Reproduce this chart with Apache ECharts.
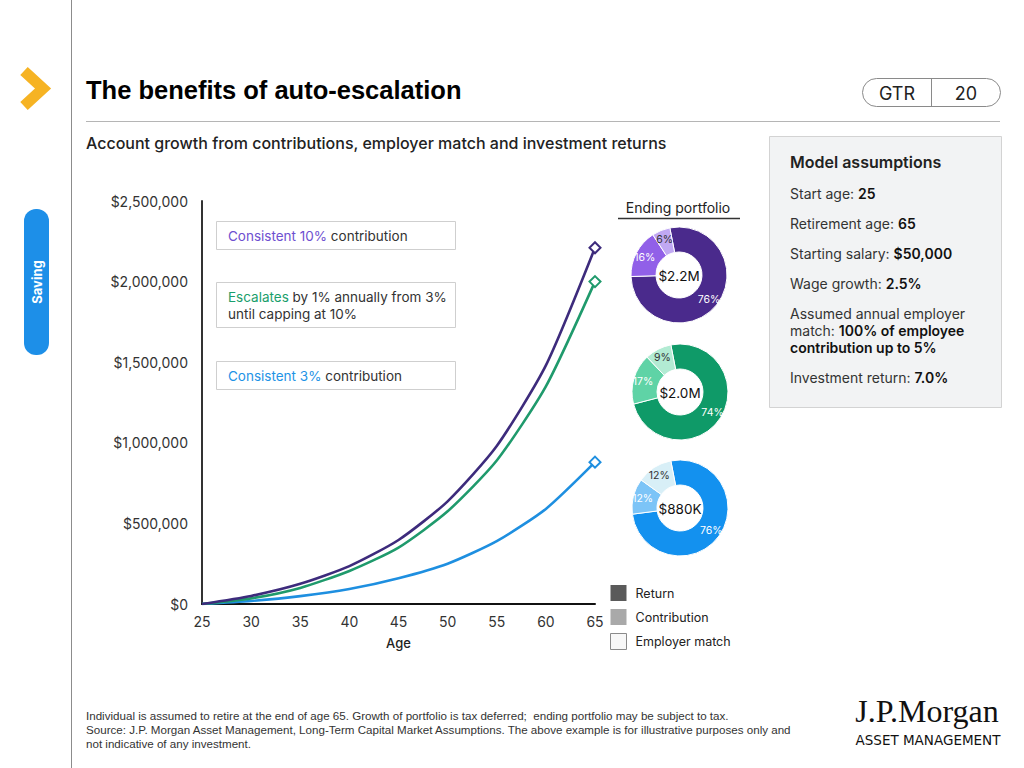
<!DOCTYPE html>
<html><head><meta charset="utf-8">
<script src="https://cdn.jsdelivr.net/npm/echarts@6/dist/echarts.min.js"></script>
<style>html,body{margin:0;padding:0;background:#fff}#c{width:1024px;height:768px}</style>
</head><body><div id="c"></div>
<script>
// ---- data ----
const ages = [25, 30, 35, 40, 45, 50, 55, 60, 65];
const consistent10 = [0, 50000, 125000, 235000, 397000, 637000, 980000, 1480000, 2210000];
const escalating = [0, 35000, 100000, 205000, 350000, 575000, 890000, 1350000, 2000000];
const consistent3 = [0, 19000, 49000, 93000, 160000, 250000, 390000, 590000, 880000];
const yTicks = [0, 500000, 1000000, 1500000, 2000000, 2500000];
const portfolioNames = ['Return', 'Contribution', 'Employer match'];
const returnPct = [76, 74, 76];
const contributionPct = [16, 17, 12];
const matchPct = [6, 9, 12];
const endingLabels = ['$2.2M', '$2.0M', '$880K'];

// ---- styles ----
const F = 'Inter, "Noto Sans", sans-serif';
const lineColors = ['#3d2b7c', '#1f9a6c', '#1e8fe0'];
const donutColors = [
  ['#4a2a8c', '#9160e8', '#c0a8f3'],
  ['#0f9a68', '#5fd3a6', '#b2ebd3'],
  ['#1391ef', '#7cc4f7', '#d8eff7']
];
const donutCenters = [[679, 275], [680, 392], [680, 508]];

const chart = echarts.init(document.getElementById('c'), null, {renderer: 'svg', width: 1024, height: 768});

const lineSeries = [consistent10, escalating, consistent3].map((vals, s) => ({
  type: 'line',
  name: ['Consistent 10% contribution', 'Escalates by 1% annually from 3% until capping at 10%', 'Consistent 3% contribution'][s],
  data: ages.map((a, i) => [a, vals[i]]),
  smooth: 0.22,
  symbol: 'emptyDiamond',
  showSymbol: true,
  symbolSize: (v, p) => p.dataIndex === ages.length - 1 ? 11 : 0,
  lineStyle: {color: lineColors[s], width: 2.6},
  itemStyle: {color: lineColors[s], borderColor: lineColors[s], borderWidth: 2.2},
  z: 3 - s,
  silent: true
}));

const pieSeries = [0, 1, 2].map(k => ({
  type: 'pie',
  center: donutCenters[k],
  radius: [23, 48],
  startAngle: 101,
  clockwise: true,
  avoidLabelOverlap: false,
  silent: true,
  itemStyle: {borderColor: '#fff', borderWidth: 1},
  label: {show: true, position: 'inside', fontSize: 10.5, fontFamily: F, formatter: '{c}%'},
  labelLine: {show: false},
  data: [
    {name: portfolioNames[0], value: returnPct[k], itemStyle: {color: donutColors[k][0]}, label: {color: '#fff'}},
    {name: portfolioNames[1], value: contributionPct[k], itemStyle: {color: donutColors[k][1]}, label: {color: '#fff'}},
    {name: portfolioNames[2], value: matchPct[k], itemStyle: {color: donutColors[k][2]}, label: {color: '#333'}}
  ]
}));

const g = [];
// page decorations
g.push({type: 'line', shape: {x1: 71.5, y1: 0, x2: 71.5, y2: 768}, style: {stroke: '#8c8c8c', lineWidth: 1}});
g.push({type: 'polyline', shape: {points: [[24, 71], [43, 88.5], [24, 106]]}, style: {stroke: '#f6b323', lineWidth: 11, fill: null, lineJoin: 'miter', lineCap: 'butt'}});
g.push({type: 'rect', shape: {x: 24, y: 209, width: 25, height: 146, r: 12}, style: {fill: '#1d8fe8'}});
g.push({type: 'text', x: 37, y: 282, rotation: Math.PI / 2, style: {text: 'Saving', fill: '#fff', font: 'bold 13px ' + F, align: 'center', verticalAlign: 'middle'}});
g.push({type: 'text', x: 86, y: 90, style: {text: 'The benefits of auto-escalation', fill: '#000', font: 'bold 25.5px "Liberation Sans", Arial, sans-serif', verticalAlign: 'middle'}});
g.push({type: 'line', shape: {x1: 86, y1: 121.5, x2: 1000, y2: 121.5}, style: {stroke: '#b5b5b5', lineWidth: 1.2}});
g.push({type: 'rect', shape: {x: 862.5, y: 78.5, width: 138, height: 28, r: 14}, style: {fill: null, stroke: '#8a8a8a', lineWidth: 1}});
g.push({type: 'line', shape: {x1: 931.5, y1: 78.5, x2: 931.5, y2: 106.5}, style: {stroke: '#8a8a8a', lineWidth: 1}});
g.push({type: 'text', x: 897, y: 93, style: {text: 'GTR', fill: '#222', font: '18px ' + F, align: 'center', verticalAlign: 'middle'}});
g.push({type: 'text', x: 966, y: 93, style: {text: '20', fill: '#222', font: '18px ' + F, align: 'center', verticalAlign: 'middle'}});
g.push({type: 'text', x: 86, y: 143, style: {text: 'Account growth from contributions, employer match and investment returns', fill: '#222', font: '500 16px ' + F, verticalAlign: 'middle'}});

// assumptions box
g.push({type: 'rect', shape: {x: 769.5, y: 136.5, width: 232, height: 271}, style: {fill: '#f2f3f4', stroke: '#d3d3d3', lineWidth: 1}});
const rs = {
  r: {fontFamily: F, fontSize: 14, fill: '#333', fontWeight: 'normal'},
  b: {fontFamily: F, fontSize: 14, fill: '#111', fontWeight: 600}
};
g.push({type: 'text', x: 790, y: 162, style: {text: 'Model assumptions', fill: '#222', font: '600 16px ' + F, verticalAlign: 'middle'}});
[
  ['{r|Start age: }{b|25}', 193],
  ['{r|Retirement age: }{b|65}', 223],
  ['{r|Starting salary: }{b|$50,000}', 253],
  ['{r|Wage growth: }{b|2.5%}', 283],
  ['{r|Assumed annual employer}', 313],
  ['{r|match: }{b|100% of employee}', 330],
  ['{b|contribution up to 5%}', 347],
  ['{r|Investment return: }{b|7.0%}', 377]
].forEach(([t, y]) => g.push({type: 'text', x: 790, y: y, style: {text: t, rich: rs, verticalAlign: 'middle'}}));

// annotation boxes
const ann = [
  {y: 221, h: 28, lines: [['Consistent 10%', ' contribution']], c: '#6e4fd0'},
  {y: 282, h: 45, lines: [['Escalates', ' by 1% annually from 3%'], ['', 'until capping at 10%']], c: '#1a9e6c'},
  {y: 361, h: 28, lines: [['Consistent 3%', ' contribution']], c: '#1e93e6'}
];
ann.forEach(a => {
  g.push({type: 'rect', shape: {x: 216.5, y: a.y + 0.5, width: 239, height: a.h}, style: {fill: '#fff', stroke: '#cfcfcf', lineWidth: 1}, z: 10});
  a.lines.forEach((ln, i) => {
    const txt = (ln[0] ? '{h|' + ln[0] + '}' : '') + '{n|' + ln[1] + '}';
    g.push({type: 'text', x: 228, y: a.y + 15 + i * 17, z: 11, style: {
      text: txt, verticalAlign: 'middle',
      rich: {h: {fontFamily: F, fontSize: 13.5, fill: a.c, fontWeight: 'normal'}, n: {fontFamily: F, fontSize: 13.5, fill: '#333', fontWeight: 'normal'}}
    }});
  });
});

// ending portfolio header
g.push({type: 'text', x: 678, y: 207, style: {text: 'Ending portfolio', fill: '#222', font: '14px ' + F, align: 'center', verticalAlign: 'middle'}});
g.push({type: 'line', shape: {x1: 618, y1: 218.5, x2: 740, y2: 218.5}, style: {stroke: '#333', lineWidth: 1.5}});
endingLabels.forEach((t, k) => g.push({type: 'text', x: donutCenters[k][0], y: donutCenters[k][1] + 1, z: 20, style: {text: t, fill: '#111', font: '13.5px ' + F, align: 'center', verticalAlign: 'middle'}}));

// footer
[
  ['Individual is assumed to retire at the end of age 65. Growth of portfolio is tax deferred;  ending portfolio may be subject to tax.', 715],
  ['Source: J.P. Morgan Asset Management, Long-Term Capital Market Assumptions. The above example is for illustrative purposes only and', 729],
  ['not indicative of any investment.', 743]
].forEach(([t, y]) => g.push({type: 'text', x: 86, y: y, style: {text: t, fill: '#333', font: '11.6px "Liberation Sans", Arial, sans-serif', verticalAlign: 'middle'}}));
g.push({type: 'text', x: 927, y: 711, style: {text: 'J.P.Morgan', fill: '#111', font: '32px "Liberation Serif", "DejaVu Serif", serif', align: 'center', verticalAlign: 'middle'}});
g.push({type: 'text', x: 928, y: 740, style: {text: 'ASSET MANAGEMENT', fill: '#111', font: '13.5px "DejaVu Sans", sans-serif', align: 'center', verticalAlign: 'middle'}});

chart.setOption({
  animation: false,
  backgroundColor: '#fff',
  grid: {left: 202, top: 201, width: 393, height: 403, containLabel: false, outerBoundsMode: 'none'},
  xAxis: {
    type: 'value', min: 25, max: 65, interval: 5,
    axisLine: {show: true, lineStyle: {color: '#111', width: 2}},
    axisTick: {show: false}, splitLine: {show: false},
    axisLabel: {fontFamily: F, fontSize: 14, color: '#333', margin: 10},
    name: 'Age', nameLocation: 'middle', nameGap: 32,
    nameTextStyle: {fontFamily: F, fontSize: 13, fontWeight: 500, color: '#222'}
  },
  yAxis: {
    type: 'value', min: yTicks[0], max: yTicks[yTicks.length - 1], interval: yTicks[1] - yTicks[0],
    axisLine: {show: true, lineStyle: {color: '#333', width: 2}},
    axisTick: {show: false}, splitLine: {show: false},
    axisLabel: {fontFamily: F, fontSize: 14, color: '#333', margin: 14, formatter: v => '$' + v.toLocaleString('en-US')}
  },
  legend: {
    orient: 'vertical', left: 610, top: 585, padding: 0, itemWidth: 16, itemHeight: 16, itemGap: 8,
    icon: 'rect', selectedMode: false,
    textStyle: {fontFamily: F, fontSize: 12.5, color: '#222', padding: [0, 0, 0, 4]},
    data: [
      {name: portfolioNames[0], itemStyle: {color: '#5a5a5a', borderWidth: 0}},
      {name: portfolioNames[1], itemStyle: {color: '#a9a9a9', borderWidth: 0}},
      {name: portfolioNames[2], itemStyle: {color: '#f7f7f7', borderColor: '#8a8a8a', borderWidth: 1}}
    ]
  },
  graphic: {elements: g},
  series: [...lineSeries, ...pieSeries]
});
</script>
</body></html>
